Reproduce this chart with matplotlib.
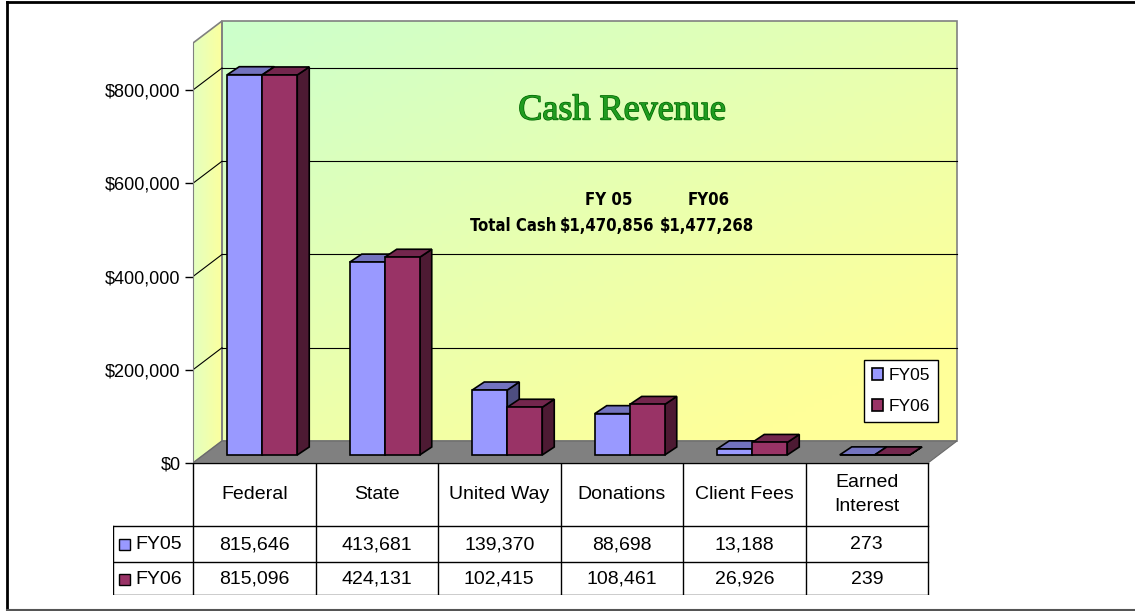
import numpy as np
import matplotlib.pyplot as plt
from matplotlib.patches import Polygon, Rectangle
from matplotlib.lines import Line2D
import matplotlib.patheffects as pe

# dados
categorias = ['Federal', 'State', 'United Way', 'Donations', 'Client Fees', 'Earned\nInterest']
fy05 = [815646, 413681, 139370, 88698, 13188, 273]
fy06 = [815096, 424131, 102415, 108461, 26926, 239]
series = ['FY05', 'FY06']
yticks = [0, 200000, 400000, 600000, 800000]
total_titulos = ['FY 05', 'FY06']
total_cash = [1470856, 1477268]

plt.rcParams['font.family'] = ['Liberation Sans', 'DejaVu Sans']

W, H = 1135, 611
fig = plt.figure(figsize=(W / 100, H / 100), dpi=100)


def fx(x):
    return x / W


def fy(y):
    return 1 - y / H


# geometria (pixels)
cat_px = 122.5
s = 373 / 800000          # px por dolar
ytop = 420 / s
dxw, dyw = 29 / cat_px, 22 / s      # profundidade das paredes
ox, oy = 8 / cat_px, 8 / s          # deslocamento das barras
dxb, dyb = 12 / cat_px, 8 / s       # profundidade das barras
w = 35 / cat_px
x_left = -0.5
x_right = x_left + 775 / cat_px

ax = fig.add_axes([fx(193), fy(463), 775 / W, 450 / H])
ax.patch.set_visible(False)

# parede do fundo com gradiente
u = np.linspace(0, 1, 200)[None, :]
v = np.linspace(0, 1, 100)[:, None]
t = np.clip((u * 0.7 + (1 - v) * 0.8) / 1.3, 0, 1)
c0 = np.array([0.80, 1.0, 0.80])
c1 = np.array([1.0, 1.0, 0.60])
grad = c0[None, None, :] * (1 - t[..., None]) + c1[None, None, :] * t[..., None]
back = Polygon([(-0.5 + dxw, dyw), (5.5 + dxw, dyw), (5.5 + dxw, ytop + dyw), (-0.5 + dxw, ytop + dyw)],
               closed=True, fc='none', ec='#808080', lw=1.2, zorder=2)
ax.add_patch(back)
im = ax.imshow(grad, extent=(-0.5 + dxw, 5.5 + dxw, dyw, ytop + dyw), origin='lower',
               aspect='auto', zorder=1)
im.set_clip_path(back)

# parede lateral
u2 = np.linspace(0, 1, 20)[None, :]
t2 = np.clip(0.3 + 0.6 * u2, 0, 1) * np.ones((100, 1))
grad2 = np.array([0.85, 1.0, 0.82])[None, None, :] * (1 - t2[..., None]) + c1[None, None, :] * t2[..., None]
lado = Polygon([(-0.5, 0), (-0.5, ytop), (-0.5 + dxw, ytop + dyw), (-0.5 + dxw, dyw)],
               closed=True, fc='none', ec='#808080', lw=1.2, zorder=2)
ax.add_patch(lado)
im2 = ax.imshow(grad2, extent=(-0.5, -0.5 + dxw, 0, ytop + dyw), origin='lower',
                aspect='auto', zorder=1)
im2.set_clip_path(lado)

# grades
for val in yticks[1:]:
    ax.plot([-0.5, -0.5 + dxw], [val, val + dyw], color='black', lw=0.8, zorder=2)
    ax.plot([-0.5 + dxw, 5.5 + dxw], [val + dyw, val + dyw], color='black', lw=0.8, zorder=2)

# chao
chao = Polygon([(-0.5, 0), (5.5, 0), (5.5 + dxw, dyw), (-0.5 + dxw, dyw)], closed=True,
               fc='#808080', ec='#6a6a6a', lw=0.8, zorder=3)
ax.add_patch(chao)

# barras
cores = [('#9999ff', '#7373bf', '#4d4d80'), ('#993366', '#73264d', '#4d1a33')]
pos = np.arange(len(categorias))
handles = []
for j, (nome, vals) in enumerate(zip(series, [fy05, fy06])):
    xs = pos + ox - w + j * w
    frente, topo, lado_c = cores[j]
    b = ax.bar(xs, vals, width=w, bottom=oy, align='edge', color=frente, edgecolor='black',
               linewidth=1.2, zorder=5 + 2 * j, label=nome)
    handles.append(b)
    for x, val in zip(xs, vals):
        top_pts = [(x, oy + val), (x + w, oy + val), (x + w + dxb, oy + val + dyb), (x + dxb, oy + val + dyb)]
        side_pts = [(x + w, oy), (x + w + dxb, oy + dyb), (x + w + dxb, oy + val + dyb), (x + w, oy + val)]
        ax.add_patch(Polygon(side_pts, closed=True, fc=lado_c, ec='black', lw=1.2, zorder=4 + 2 * j))
        ax.add_patch(Polygon(top_pts, closed=True, fc=topo, ec='black', lw=1.2, zorder=4 + 2 * j))

ax.set_xlim(x_left, x_right)
ax.set_ylim(0, 450 / s)
ax.set_xticks([])
ax.set_yticks(yticks)
ax.set_yticklabels([f'${val:,.0f}' for val in yticks])
ax.tick_params(axis='y', length=6, width=1, color='black', labelsize=13, pad=3)
for lado_sp in ['top', 'right', 'bottom']:
    ax.spines[lado_sp].set_visible(False)
ax.spines['left'].set_bounds(0, ytop)
ax.spines['left'].set_color('#808080')
ax.spines['left'].set_zorder(2)

leg = ax.legend(handles=handles, loc='upper left', bbox_to_anchor=(fx(864), fy(360)),
                bbox_transform=fig.transFigure, frameon=True, fancybox=False, edgecolor='black',
                framealpha=1, handlelength=0.65, handleheight=0.65, handletextpad=0.3,
                borderpad=0.45, labelspacing=0.95, fontsize=12.5, borderaxespad=0)
leg.get_frame().set_linewidth(1)
leg.set_zorder(20)

# titulo e totais
fig.text(fx(622), fy(111), 'Cash Revenue', ha='center', va='center', family=['Liberation Serif'],
         fontsize=26, color='#1f9b1f',
         path_effects=[pe.withStroke(linewidth=1.0, foreground='#006600')])
fonte_n = dict(family=['DejaVu Sans'], stretch='condensed', weight='bold', fontsize=12,
               ha='center', va='center')
for k, (tt, tc) in enumerate(zip(total_titulos, total_cash)):
    fig.text(fx(609 + 100 * k), fy(200), tt, **fonte_n)
    fig.text(fx(607 + 100 * k), fy(226), f'${tc:,}', **fonte_n)
fig.text(fx(513), fy(226), 'Total Cash', **fonte_n)

# tabela
tax = fig.add_axes([fx(113), fy(595), 855 / W, 132 / H])
tax.set_xlim(x_left - 80 / cat_px, x_right)
tax.set_ylim(132, 0)
tax.axis('off')
lx = x_left - 80 / cat_px
for k in range(len(categorias) + 1):
    tax.plot([-0.5 + k, -0.5 + k], [0, 132], color='black', lw=1)
tax.plot([-0.5, 5.5], [0, 0], color='black', lw=1)
for yy in [63, 99, 132]:
    tax.plot([lx, 5.5], [yy, yy], color='black', lw=1)
tax.plot([lx, lx], [63, 132], color='black', lw=1)
for i, cat in enumerate(categorias):
    tax.text(i, 31.5, cat, ha='center', va='center', fontsize=14, linespacing=1.5)
    tax.text(i, 81.5, f'{fy05[i]:,}', ha='center', va='center', fontsize=14)
    tax.text(i, 116, f'{fy06[i]:,}', ha='center', va='center', fontsize=14)
for j, (nome, yy) in enumerate(zip(series, [81.5, 116])):
    tax.add_patch(Rectangle((lx + 6 / cat_px, yy - 5.5), 11 / cat_px, 11, fc=cores[j][0],
                            ec='black', lw=1))
    tax.text(lx + 22 / cat_px, yy, nome, ha='left', va='center', fontsize=14)

# borda
fig.add_artist(Line2D([fx(7), fx(7)], [fy(2), fy(610)], color='black', lw=2, transform=fig.transFigure))
fig.add_artist(Line2D([fx(7), 1], [fy(2), fy(2)], color='black', lw=2, transform=fig.transFigure))
fig.add_artist(Line2D([fx(7), 1], [fy(610), fy(610)], color='#555555', lw=1.5, transform=fig.transFigure))

fig.savefig('out.png', dpi=100)
